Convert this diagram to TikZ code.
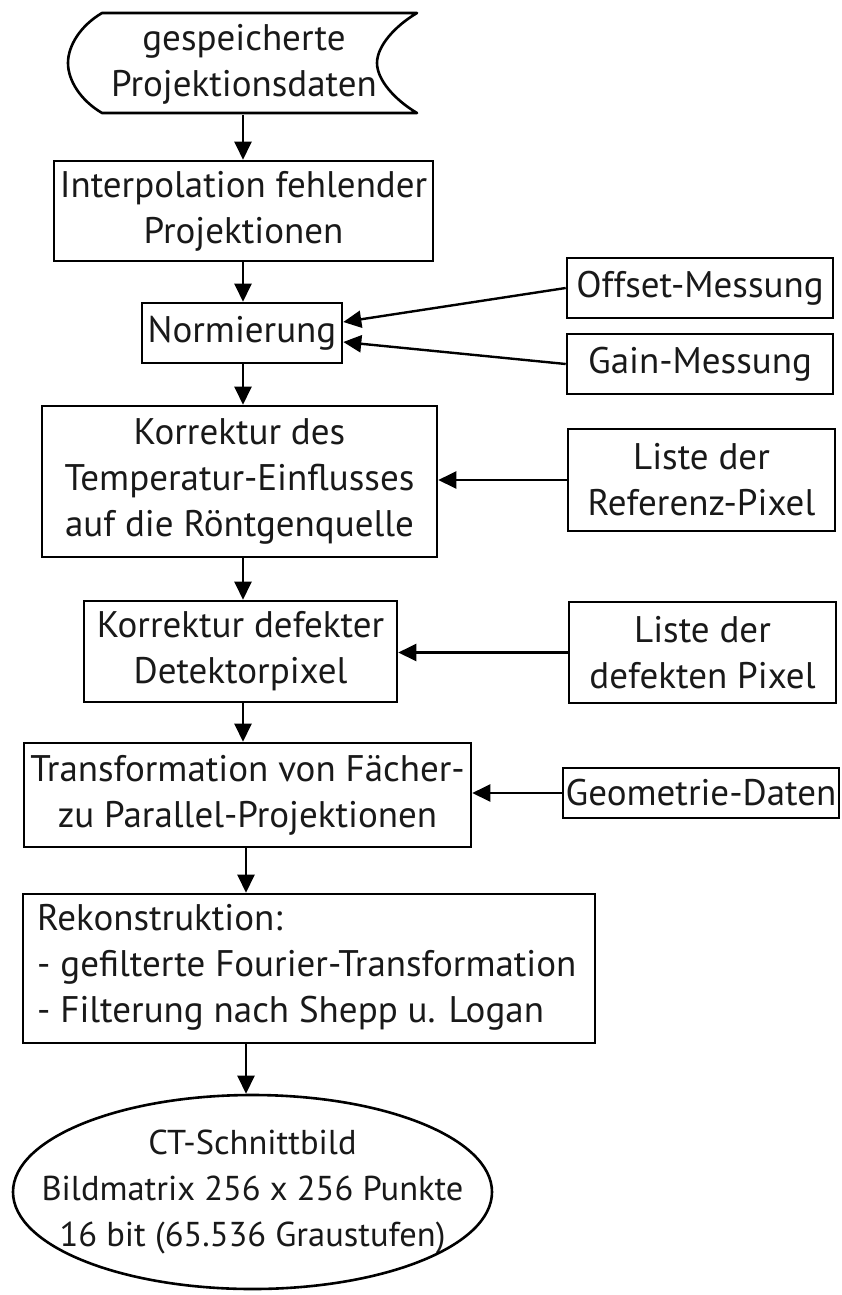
\documentclass[tikz,border=0pt]{standalone}
\usepackage{fontspec}
\setmainfont{PT Sans}
\usetikzlibrary{arrows.meta,calc}
\tikzset{
  box/.style={draw=black, line width=2.6pt, rectangle, inner sep=0pt, align=center,
    font=\fontsize{37}{46}\selectfont, text=black!90},
  arr/.style={line width=2.4pt, -{Triangle[length=18pt,width=17pt]}},
}
\begin{document}
\begin{tikzpicture}[x=1pt,y=-1pt]
\useasboundingbox (0,0) rectangle (841,1295);
\coordinate (col) at (243,0);
\coordinate (colb) at (246,0);
% stored data shape
\node[box, draw=none, minimum width=315pt, minimum height=100pt] (src) at (244,64) {gespeicherte\\Projektionsdaten};
\draw[line width=2.6pt, line join=round]
  (102,13) -- (417,13)
  .. controls (395,26) and (377,46) .. (377,63)
  .. controls (377,80) and (395,100) .. (417,113)
  -- (102,113)
  .. controls (80,100) and (68,80) .. (68,63)
  .. controls (68,46) and (80,26) .. (102,13) -- cycle;
\node[box, minimum width=379pt, minimum height=100pt] (interp) at (243.5,211) {Interpolation fehlender\\Projektionen};
\node[box, minimum width=200pt, minimum height=60pt] (norm) at (242,333) {Normierung};
\node[box, minimum width=266pt, minimum height=60pt] (offset) at (700,288) {Offset-Messung};
\node[box, minimum width=266pt, minimum height=60pt] (gain) at (700,364) {Gain-Messung};
\node[box, minimum width=395pt, minimum height=151pt] (temp) at (239.5,481.5) {Korrektur des\\Temperatur-Einflusses\\auf die Röntgenquelle};
\node[box, minimum width=267pt, minimum height=102pt] (ref) at (701.5,480) {Liste der\\Referenz-Pixel};
\node[box, minimum width=313pt, minimum height=101pt] (defekt) at (240.5,651.5) {Korrektur defekter\\Detektorpixel};
\node[box, minimum width=267pt, minimum height=101pt] (defl) at (702.5,652.5) {Liste der\\defekten Pixel};
\node[box, minimum width=447pt, minimum height=104pt] (trans) at (247.5,795) {Transformation von Fächer-\\zu Parallel-Projektionen};
\node[box, minimum width=276pt, minimum height=50pt] (geo) at (701,793) {Geometrie-Daten};
\node[box, minimum width=572pt, minimum height=149pt] (rek) at (309,968.5) {};
\node[anchor=west, align=left, inner sep=0pt, font=\fontsize{37}{46}\selectfont, text=black!90] (rektext) at (37,967) {Rekonstruktion:\\- gefilterte Fourier-Transformation\\- Filterung nach Shepp u. Logan};
\node[box, draw=none, font=\fontsize{34.5}{46}\selectfont, minimum width=479pt, minimum height=194pt] (ct) at (252.5,1192) {CT-Schnittbild\\Bildmatrix 256 x 256 Punkte\\16 bit (65.536 Graustufen)};
\draw[line width=2.6pt] (ct.center) ellipse [x radius=239.5, y radius=97];
% vertical flow
\draw[arr] (src.south -| col) -- (interp.north -| col);
\draw[arr] (interp.south -| col) -- (norm.north -| col);
\draw[arr] (norm.south -| col) -- (temp.north -| col);
\draw[arr] (temp.south -| col) -- (defekt.north -| col);
\draw[arr] (defekt.south -| col) -- (trans.north -| col);
\draw[arr] (trans.south -| colb) -- (rek.north -| colb);
\draw[arr] (rek.south -| colb) -- (ct.north -| colb);
% side inputs
\draw[arr] (offset.west) -- ($(norm.east)+(0,-11)$);
\draw[arr] (gain.west) -- ($(norm.east)+(0,9)$);
\draw[arr] (ref.west) -- (ref.west -| temp.east);
\draw[arr] (defl.west) -- (defl.west -| defekt.east);
\draw[arr] (geo.west) -- (geo.west -| trans.east);
\end{tikzpicture}
\end{document}
